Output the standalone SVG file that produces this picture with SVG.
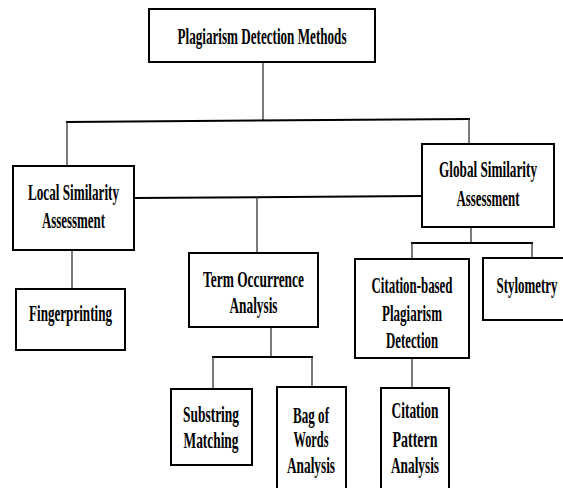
<svg xmlns="http://www.w3.org/2000/svg" width="563" height="488" viewBox="0 0 563 488">
<style>
.box{fill:#fff;stroke:#000;stroke-width:2}
.t{font-family:"Liberation Serif","Times New Roman",serif;font-weight:bold;font-size:23px;fill:#000;text-anchor:middle}
.v{stroke:#333;stroke-width:1.3;fill:none}
.h{stroke:#000;stroke-width:2;fill:none}
</style>
<rect width="563" height="488" fill="#fff"/>
<g id="connectors">
<line class="v" x1="263" y1="62" x2="263" y2="120"/>
<line class="h" x1="66" y1="122" x2="470" y2="119"/>
<line class="v" x1="67" y1="122" x2="67" y2="166"/>
<line class="v" x1="469" y1="119" x2="469" y2="144"/>
<line class="h" x1="134" y1="198" x2="422" y2="196"/>
<line class="v" x1="257" y1="197" x2="257" y2="253"/>
<line class="v" x1="72" y1="250" x2="72" y2="289"/>
<line class="v" x1="471" y1="227" x2="471" y2="243"/>
<line class="h" x1="411" y1="243" x2="533" y2="243"/>
<line class="v" x1="412" y1="243" x2="412" y2="259"/>
<line class="v" x1="532" y1="243" x2="532" y2="258"/>
<line class="v" x1="271" y1="327" x2="271" y2="357"/>
<line class="h" x1="212" y1="357" x2="313" y2="357"/>
<line class="v" x1="213" y1="357" x2="213" y2="389"/>
<line class="v" x1="312" y1="357" x2="312" y2="387"/>
<line class="v" x1="412" y1="358" x2="412" y2="388"/>
</g>
<g id="root">
<rect class="box" x="149" y="9" width="226" height="53"/>
<text class="t" transform="matrix(0.58 0 0 1 262 0)" y="44" textLength="291.4" lengthAdjust="spacingAndGlyphs">Plagiarism Detection Methods</text>
</g>
<g id="local">
<rect class="box" x="13" y="166" width="121" height="84"/>
<text class="t" transform="matrix(0.58 0 0 1 73.5 0)" y="200" textLength="156.9" lengthAdjust="spacingAndGlyphs">Local Similarity</text>
<text class="t" transform="matrix(0.58 0 0 1 73.5 0)" y="228.5" textLength="108.6" lengthAdjust="spacingAndGlyphs">Assessment</text>
</g>
<g id="global">
<rect class="box" x="422" y="144" width="132" height="83"/>
<text class="t" transform="matrix(0.58 0 0 1 488 0)" y="177" textLength="169" lengthAdjust="spacingAndGlyphs">Global Similarity</text>
<text class="t" transform="matrix(0.58 0 0 1 488 0)" y="206" textLength="108.6" lengthAdjust="spacingAndGlyphs">Assessment</text>
</g>
<g id="term">
<rect class="box" x="189" y="253" width="129" height="74"/>
<text class="t" transform="matrix(0.58 0 0 1 253.5 0)" y="287" textLength="174.1" lengthAdjust="spacingAndGlyphs">Term Occurrence</text>
<text class="t" transform="matrix(0.58 0 0 1 253.5 0)" y="313" textLength="82.8" lengthAdjust="spacingAndGlyphs">Analysis</text>
</g>
<g id="fingerprinting">
<rect class="box" x="16" y="289" width="109" height="61"/>
<text class="t" transform="matrix(0.58 0 0 1 70.5 0)" y="321" textLength="143.1" lengthAdjust="spacingAndGlyphs">Fingerprinting</text>
</g>
<g id="citation-based">
<rect class="box" x="355" y="259" width="114" height="99"/>
<text class="t" transform="matrix(0.58 0 0 1 412 0)" y="293" textLength="139.7" lengthAdjust="spacingAndGlyphs">Citation-based</text>
<text class="t" transform="matrix(0.58 0 0 1 412 0)" y="321" textLength="103.4" lengthAdjust="spacingAndGlyphs">Plagiarism</text>
<text class="t" transform="matrix(0.58 0 0 1 412 0)" y="348" textLength="89.7" lengthAdjust="spacingAndGlyphs">Detection</text>
</g>
<g id="stylometry">
<rect class="box" x="483" y="258" width="84" height="62"/>
<text class="t" transform="matrix(0.58 0 0 1 527 0)" y="293" textLength="105.2" lengthAdjust="spacingAndGlyphs">Stylometry</text>
</g>
<g id="substring">
<rect class="box" x="171" y="389" width="81" height="76"/>
<text class="t" transform="matrix(0.58 0 0 1 211 0)" y="422" textLength="96.6" lengthAdjust="spacingAndGlyphs">Substring</text>
<text class="t" transform="matrix(0.58 0 0 1 211 0)" y="448" textLength="94.8" lengthAdjust="spacingAndGlyphs">Matching</text>
</g>
<g id="bag-of-words">
<rect class="box" x="277" y="387" width="69" height="106"/>
<text class="t" transform="matrix(0.58 0 0 1 311 0)" y="423" textLength="62.1" lengthAdjust="spacingAndGlyphs">Bag of</text>
<text class="t" transform="matrix(0.58 0 0 1 311 0)" y="447" textLength="60.3" lengthAdjust="spacingAndGlyphs">Words</text>
<text class="t" transform="matrix(0.58 0 0 1 311 0)" y="473" textLength="82.8" lengthAdjust="spacingAndGlyphs">Analysis</text>
</g>
<g id="citation-pattern">
<rect class="box" x="381" y="388" width="68" height="105"/>
<text class="t" transform="matrix(0.58 0 0 1 415 0)" y="418" textLength="81" lengthAdjust="spacingAndGlyphs">Citation</text>
<text class="t" transform="matrix(0.58 0 0 1 415 0)" y="447" textLength="77.6" lengthAdjust="spacingAndGlyphs">Pattern</text>
<text class="t" transform="matrix(0.58 0 0 1 415 0)" y="473" textLength="82.8" lengthAdjust="spacingAndGlyphs">Analysis</text>
</g>
</svg>
